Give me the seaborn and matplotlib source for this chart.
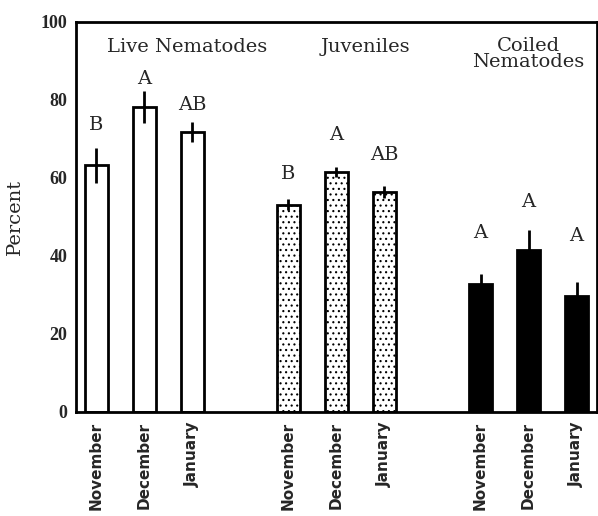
import numpy as np
import pandas as pd
import matplotlib
matplotlib.use("Agg")
import matplotlib.pyplot as plt
import seaborn as sns

# ---- data ----
groups = ["Live Nematodes", "Juveniles", "Coiled\nNematodes"]
months = ["November", "December", "January"]
live_values = [63.3, 78.2, 71.8]
live_errors = [4.5, 4.0, 2.5]
juvenile_values = [53.1, 61.5, 56.4]
juvenile_errors = [1.4, 1.2, 1.5]
coiled_values = [32.8, 41.5, 29.7]
coiled_errors = [2.5, 5.2, 3.5]
live_letters = ["B", "A", "AB"]
juvenile_letters = ["B", "A", "AB"]
coiled_letters = ["A", "A", "A"]
live_letter_y = [73.6, 85.4, 78.7]
juvenile_letter_y = [61.0, 71.0, 65.9]
coiled_letter_y = [45.9, 53.8, 45.1]
y_ticks = [0, 20, 40, 60, 80, 100]

values = [live_values, juvenile_values, coiled_values]
errors = [live_errors, juvenile_errors, coiled_errors]
letters = [live_letters, juvenile_letters, coiled_letters]
letter_y = [live_letter_y, juvenile_letter_y, coiled_letter_y]

rows = []
for g, grp in enumerate(groups):
    for i, m in enumerate(months):
        rows.append(dict(group=grp, month=m, pos=g * 4 + i,
                         value=values[g][i], err=errors[g][i],
                         letter=letters[g][i], ly=letter_y[g][i]))
df = pd.DataFrame(rows)

sns.set_theme(style="white")
plt.rcParams["font.family"] = ["DejaVu Serif"]

fig = plt.figure(figsize=(5.98, 5.16), dpi=100)
ax = fig.add_axes([0.127, 0.2016, 0.871, 0.7558])

styles = [dict(facecolor="white", hatch=None),
          dict(facecolor="white", hatch="..."),
          dict(facecolor="black", hatch=None)]

plt.rcParams["hatch.linewidth"] = 0.8
for g, grp in enumerate(groups):
    sub = df[df.group == grp]
    n_before = len(ax.patches)
    sns.barplot(data=sub, x="pos", y="value", native_scale=True, width=0.48,
                ax=ax, color="white", edgecolor="black", linewidth=2.0,
                errorbar=None)
    for p in ax.patches[n_before:]:
        p.set_facecolor(styles[g]["facecolor"])
        p.set_edgecolor("black")
        if styles[g]["hatch"]:
            p.set_hatch(styles[g]["hatch"])
    ax.errorbar(sub.pos, sub.value, yerr=sub.err, fmt="none",
                ecolor="black", elinewidth=2.0, capsize=0, zorder=5)
    for _, r in sub.iterrows():
        ax.text(r.pos, r.ly, r.letter, ha="center", va="center",
                fontsize=14, family="DejaVu Serif")

title_x = [1.9, 5.6, 9.0]
title_y = [93.5, 93.5, 91.8]
for g, grp in enumerate(groups):
    ax.text(title_x[g], title_y[g], grp, ha="center", va="center",
            fontsize=14, family="DejaVu Serif", linespacing=0.85)

ax.set_xlim(-0.42, 10.42)
ax.set_ylim(0, 100)
ax.set_yticks(y_ticks)
ax.set_yticklabels([str(t) for t in y_ticks], fontsize=13,
                   family="Liberation Serif", fontweight="bold")
ax.set_xticks(df.pos)
ax.set_xticklabels(df.month, rotation=90, fontsize=11,
                   family="DejaVu Sans", fontweight="bold")
ax.tick_params(axis="y", direction="in", length=3, width=1.5, pad=6)
ax.tick_params(axis="x", direction="out", length=0, pad=7)
ax.set_xlabel("")
ax.set_ylabel("Percent", fontsize=14, family="DejaVu Serif", labelpad=12)
for s in ax.spines.values():
    s.set_color("black")
    s.set_linewidth(2.0)

fig.savefig("out.png", dpi=100)
